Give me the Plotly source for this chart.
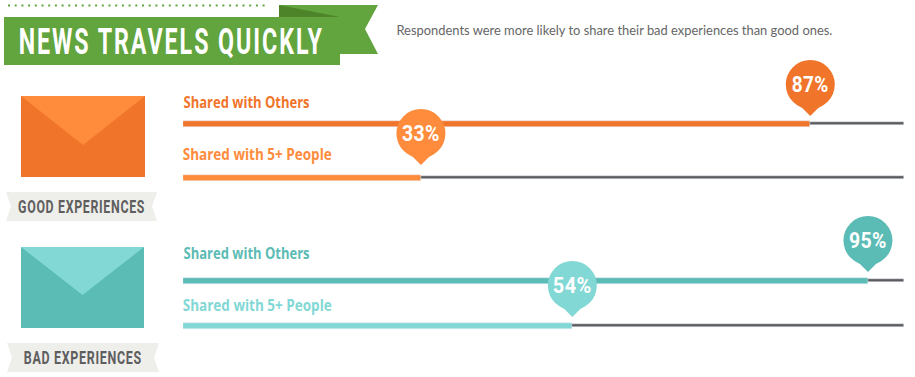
import json
import plotly.graph_objects as go

# ---- data ----
TITLE = "NEWS TRAVELS QUICKLY"
SUBTITLE = "Respondents were more likely to share their bad experiences than good ones."
GROUPS = ["GOOD EXPERIENCES", "BAD EXPERIENCES"]
SERIES = ["Shared with Others", "Shared with 5+ People", "Shared with Others", "Shared with 5+ People"]
VALUES = [87, 33, 95, 54]
MAX_VALUE = [100, 100, 100, 100]

# ---- layout constants (pixels of the 915x377 canvas) ----
W, H = 915, 377
ROW_Y = [123.5, 177.5, 280.5, 325.5]
LABEL_Y = [102, 154, 253, 305]
TIP_Y = [116, 165, 272, 317]
COLORS = ["#F0752A", "#FF8C3C", "#5BBBB5", "#82D8D5"]
GREEN, FOLD, RIBBON, GREY = "#62A43E", "#4E8429", "#EEEEEB", "#5E5E5E"
CIRCLE_D = 49
DIAMOND_HALF = 22
BLOCK = "Roboto"
LABEL_LEFT = 183
# rendered widths of the texts, in pixels
TEXT_WIDTHS = {TITLE: 305, SUBTITLE: 436, GROUPS[0]: 127, GROUPS[1]: 118,
               SERIES[0]: 126, SERIES[1]: 149, "87%": 37, "33%": 38, "95%": 38, "54%": 39}
# extra tracking given before condensing, in pixels
TRACKING = {TITLE: 3, GROUPS[0]: 1, GROUPS[1]: 1, "87%": 0.5, "33%": 0.5, "95%": 0.5, "54%": 0.5}

fig = go.Figure()
fig.add_bar(x=MAX_VALUE, y=ROW_Y, orientation="h", width=3, marker_color="#5C5C5C",
            showlegend=False, hoverinfo="skip")
fig.add_bar(x=VALUES, y=ROW_Y, orientation="h", width=6, marker_color=COLORS,
            showlegend=False, hoverinfo="x")
# pin: point + round head + value
fig.add_scatter(x=VALUES, y=[t - DIAMOND_HALF for t in TIP_Y], mode="markers", showlegend=False,
                hoverinfo="skip",
                marker=dict(symbol="diamond", size=DIAMOND_HALF * 2 / 1.3, color=COLORS, line_width=0))
fig.add_scatter(x=VALUES, y=[t - 31.5 for t in TIP_Y], mode="markers", showlegend=False,
                hoverinfo="skip",
                marker=dict(symbol="circle", size=CIRCLE_D, color=COLORS, line_width=0))
fig.add_scatter(x=VALUES, y=[t - 30 for t in TIP_Y], mode="text", showlegend=False,
                hoverinfo="skip",
                text=[f"{v}%" for v in VALUES], textposition="middle center",
                textfont=dict(family=BLOCK, size=22, color="white", weight="bold"))


def px(x):
    return x / W


def poly(points, color):
    path = "M" + " L".join(f"{px(x)},{y}" for x, y in points) + " Z"
    return dict(type="path", xref="paper", yref="y", path=path, fillcolor=color,
                line_width=0, layer="below")


shapes = [
    dict(type="line", xref="paper", yref="y", x0=px(8), x1=px(268), y0=5.5, y1=5.5, layer="below",
         line=dict(color=GREEN, width=2, dash="2px,4.7px")),
    poly([(279, 5), (378, 5), (365, 29), (378, 54), (340, 54), (340, 17), (279, 17)], GREEN),
    poly([(279, 5), (340, 17), (279, 17)], FOLD),
    poly([(4, 17), (340, 17), (340, 65), (4, 65)], GREEN),
]
for top, left, right, dark, light, tip in [(96, 21, 145, COLORS[0], COLORS[1], 145),
                                           (247, 21, 144, COLORS[2], COLORS[3], 295)]:
    shapes.append(poly([(left, top), (right, top), (right, top + 81), (left, top + 81)], dark))
    shapes.append(poly([(left, top), (right, top), ((left + right) / 2, tip)], light))
for top, left, right in [(192, 6, 157), (343, 7, 159)]:
    shapes.append(poly([(left, top), (right, top), (right - 5, top + 14.5), (right, top + 29),
                        (left, top + 29), (left + 5, top + 14.5)], RIBBON))


def note(text, x, y, size, color, family, bold=False):
    return dict(text=text, x=px(x), y=y, xref="paper", yref="y", showarrow=False, xanchor="center",
                yanchor="middle", font=dict(family=family, size=size, color=color,
                                            weight="bold" if bold else "normal"))


annotations = [
    note(TITLE, 171.5, 42, 36, "white", BLOCK, True),
    note(SUBTITLE, 614.5, 29, 14, "#666666", "Lato"),
    note(GROUPS[0], 81, 206.5, 18, GREY, BLOCK, True),
    note(GROUPS[1], 83, 357.5, 18, GREY, BLOCK, True),
]
for s, y, c in zip(SERIES, LABEL_Y, COLORS):
    annotations.append(note(s, LABEL_LEFT + TEXT_WIDTHS[s] / 2, y, 16, c, "Open Sans", True))

fig.update_layout(
    width=W, height=H, autosize=False, margin=dict(l=0, r=0, t=0, b=0),
    paper_bgcolor="white", plot_bgcolor="white", barmode="overlay", bargap=0,
    xaxis=dict(domain=[183 / W, 904 / W], range=[0, 100], visible=False, fixedrange=True),
    yaxis=dict(domain=[0, 1], range=[H, 0], visible=False, fixedrange=True),
    shapes=shapes, annotations=annotations,
)
# Full-bleed page; condense and track the type to the reference's narrow display faces.
POST = """
document.body.style.margin = '0';
document.documentElement.style.overflow = 'hidden';
var widths = %s, tracking = %s;
document.querySelectorAll('text').forEach(function (t) {
  var s = t.textContent, w = widths[s];
  if (tracking[s]) { t.style.letterSpacing = tracking[s] + 'px'; }
  if (w) { t.setAttribute('textLength', w); t.setAttribute('lengthAdjust', 'spacingAndGlyphs'); }
});
""" % (json.dumps(TEXT_WIDTHS), json.dumps(TRACKING))
fig.write_html("out.html", config={"displayModeBar": False}, post_script=POST)
